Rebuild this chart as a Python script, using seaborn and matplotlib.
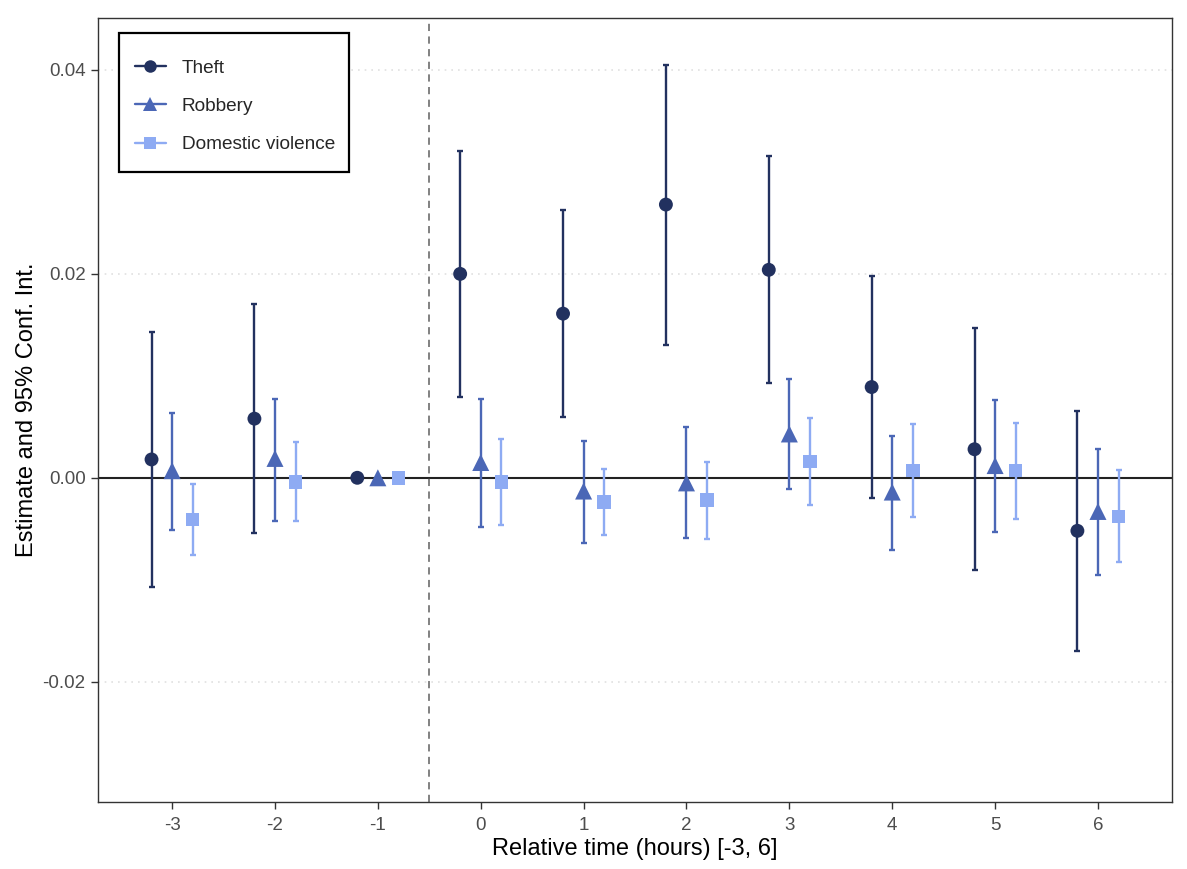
import numpy as np
import pandas as pd
import matplotlib
matplotlib.use("Agg")
import matplotlib.pyplot as plt
from matplotlib.lines import Line2D
from matplotlib.patches import Rectangle
import seaborn as sns

times = [-3, -2, -1, 0, 1, 2, 3, 4, 5, 6]
series = ["Theft", "Robbery", "Domestic violence"]

theft_est = [0.0018, 0.0058, 0.0, 0.0200, 0.0161, 0.0268, 0.0204, 0.0089, 0.0028, -0.0052]
theft_lo = [-0.0107, -0.0054, 0.0, 0.0079, 0.0060, 0.0130, 0.0093, -0.0020, -0.0090, -0.0170]
theft_hi = [0.0143, 0.0170, 0.0, 0.0321, 0.0263, 0.0405, 0.0316, 0.0198, 0.0147, 0.0066]

robbery_est = [0.0007, 0.0019, 0.0, 0.0015, -0.0013, -0.0005, 0.0043, -0.0014, 0.0012, -0.0033]
robbery_lo = [-0.0051, -0.0042, 0.0, -0.0048, -0.0064, -0.0059, -0.0011, -0.0071, -0.0053, -0.0095]
robbery_hi = [0.0064, 0.0077, 0.0, 0.0077, 0.0036, 0.0050, 0.0097, 0.0041, 0.0076, 0.0028]

dv_est = [-0.0041, -0.0004, 0.0, -0.0004, -0.0024, -0.0022, 0.0016, 0.0007, 0.0007, -0.0038]
dv_lo = [-0.0076, -0.0042, 0.0, -0.0046, -0.0056, -0.0060, -0.0027, -0.0038, -0.0040, -0.0083]
dv_hi = [-0.0006, 0.0035, 0.0, 0.0038, 0.0009, 0.0015, 0.0059, 0.0053, 0.0054, 0.0008]

colors = ["#22315f", "#4b67b6", "#8eabf3"]
markers = ["o", "^", "s"]

ests = [theft_est, robbery_est, dv_est]
los = [theft_lo, robbery_lo, dv_lo]
his = [theft_hi, robbery_hi, dv_hi]

rows = []
for i, name in enumerate(series):
    off = (i - 1) * 0.2
    for t, e, lo, hi in zip(times, ests[i], los[i], his[i]):
        rows.append({"time": t, "x": t + off, "est": e, "lo": lo, "hi": hi, "series": name})
df = pd.DataFrame(rows)

sns.set_theme(style="white")
plt.rcParams["font.family"] = ["Liberation Sans", "DejaVu Sans"]

fig = plt.figure(figsize=(11.87, 8.69), dpi=100)
ax = fig.add_axes([0.0826, 0.0771, 0.9048, 0.9022])

# gridlines
for yv in [-0.02, 0.0, 0.02, 0.04]:
    ax.axhline(yv, color="#e0e0e0", lw=1.2, ls=(0, (1, 3)), zorder=0)
ax.axhline(0, color="#222222", lw=1.5, zorder=1)
ax.axvline(-0.5, color="#777777", lw=1.3, ls=(0, (4, 3)), zorder=1)

for i, name in enumerate(series):
    d = df[df["series"] == name]
    ax.errorbar(d["x"], d["est"], yerr=[d["est"] - d["lo"], d["hi"] - d["est"]],
                fmt="none", ecolor=colors[i], elinewidth=1.7, capsize=2.2,
                capthick=1.7, zorder=2)

sizes = {"Theft": 100, "Robbery": 150, "Domestic violence": 95}
sns.scatterplot(data=df, x="x", y="est", hue="series", style="series",
                size="series", sizes=sizes, size_order=series,
                palette=colors, markers=markers, hue_order=series,
                style_order=series, edgecolor="none", linewidth=0,
                legend=False, ax=ax, zorder=3)

ax.set_xlim(-3.72, 6.72)
ax.set_ylim(-0.0318, 0.0451)
ax.set_xticks(times)
ax.set_xticklabels([str(t) for t in times])
ax.set_yticks([-0.02, 0.0, 0.02, 0.04])
ax.set_yticklabels(["-0.02", "0.00", "0.02", "0.04"])
ax.tick_params(axis="both", which="both", length=5, width=1, color="#333333",
               labelsize=13.5, labelcolor="#4d4d4d", direction="out",
               left=True, bottom=True, pad=4)
ax.tick_params(axis="x", pad=6)
for sp in ax.spines.values():
    sp.set_color("#333333")
    sp.set_linewidth(1.0)

ax.set_xlabel("Relative time (hours) [-3, 6]", fontsize=17, color="black", labelpad=3)
ax.set_ylabel("Estimate and 95% Conf. Int.", fontsize=17, color="black", labelpad=3)

# legend box
ax.add_patch(Rectangle((0.0196, 0.8036), 0.2141, 0.1773, transform=ax.transAxes,
                       facecolor="white", edgecolor="black", lw=1.6, zorder=5))
handles = [Line2D([0], [0], color=colors[i], marker=markers[i], lw=1.7,
                  markersize=10 if i == 1 else 9, markeredgewidth=0) for i in range(3)]
leg = ax.legend(handles, series, loc="upper left", bbox_to_anchor=(0.0345, 0.947),
                frameon=False, fontsize=13.7, handlelength=1.6,
                labelspacing=1.1, borderpad=0, handletextpad=0.85,
                borderaxespad=0)
leg.set_zorder(6)

fig.savefig("out.png", dpi=100)
